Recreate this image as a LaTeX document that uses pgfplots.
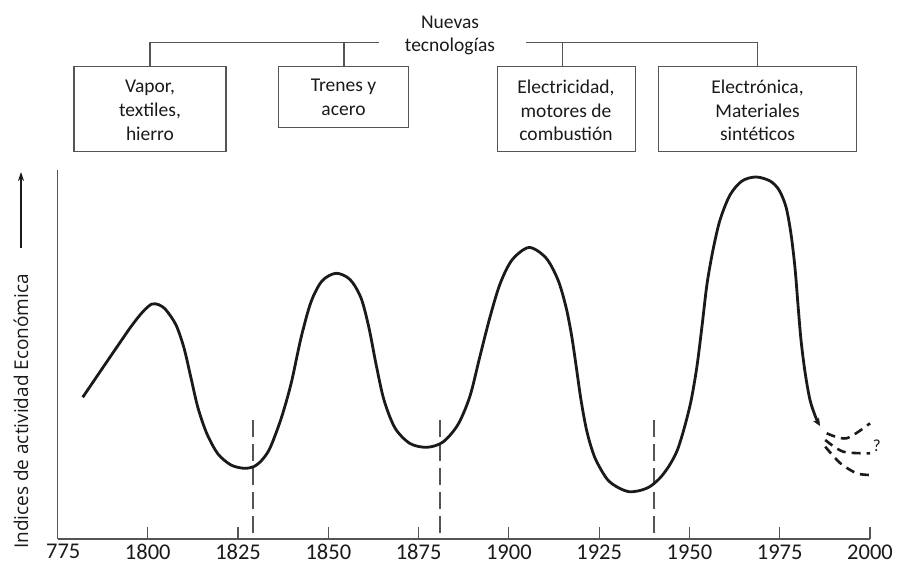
\documentclass[border=0pt]{standalone}
\usepackage{fontspec}
\usepackage{pgfplots}
\pgfplotsset{compat=1.18}
\usetikzlibrary{arrows.meta}
\newfontfamily\carlito{Carlito}
\newfontfamily\opensans{Open Sans}
\definecolor{ink}{HTML}{1A1A1A}
\definecolor{frame}{HTML}{555555}
\newcommand{\boxfont}{\carlito\fontsize{19.5bp}{23.7bp}\selectfont}
\begin{document}
\begin{tikzpicture}[x=1bp,y=1bp]
\useasboundingbox (0,0) rectangle (898,573);
\begin{axis}[
  at={(57.5bp,34bp)}, anchor=south west,
  scale only axis, width=812.5bp, height=369bp,
  xmin=1775, xmax=2000, ymin=0, ymax=369,
  axis x line=bottom, axis y line=left,
  axis line style={-, draw=frame, line width=1.6bp},
  xtick={1775,1800,1825,1850,1875,1900,1925,1950,1975,2000},
  xticklabels={\phantom{1}775,1800,1825,1850,1875,1900,1925,1950,1975,2000},
  ytick=\empty,
  xtick align=inside,
  major tick length=12bp,
  tick style={draw=frame, line width=1.2bp},
  tick label style={font=\carlito\fontsize{22.5bp}{26bp}\selectfont, text=ink},
  xticklabel style={yshift=-2bp},
  ylabel={Indices de actividad Económica},
  ylabel style={at={(axis description cs:-0.0449,0.3455)}, anchor=center,
    font=\opensans\fontsize{19bp}{22bp}\selectfont, text=ink},
  clip=false,
]
% dashed separators
\addplot[frame, line width=1.6bp, dash pattern=on 17bp off 7bp] coordinates {(1829.2,119) (1829.2,0)};
\addplot[frame, line width=1.6bp, dash pattern=on 17bp off 7bp] coordinates {(1880.9,119) (1880.9,0)};
\addplot[frame, line width=1.6bp, dash pattern=on 17bp off 7bp] coordinates {(1940.2,119) (1940.2,0)};
% main long-wave curve
\addplot[ink, line width=2.8bp, smooth, -{Stealth[length=8bp,width=7bp]}] coordinates {
(1781.98,141.7) (1788.15,174.5) (1792.31,196.5) (1795.08,211) (1797.29,221.5)
(1799.23,229.5) (1801.17,235) (1803.11,234.2) (1805.05,229) (1807.82,214)
(1810.03,191) (1811.97,161) (1813.91,131)
(1816.40,105) (1819.45,85) (1823.05,74) (1826.65,70.7) (1829.41,72.5)
(1831.63,79) (1833.85,91) (1836.89,120) (1839.66,155) (1842.43,201) (1845.20,237)
(1848.25,258) (1852.12,265.7) (1856.00,259.5) (1859.05,241) (1861.26,211)
(1863.20,175) (1865.41,139) (1868.46,111) (1872.61,95.5) (1877.32,91.7)
(1881.75,97) (1885.91,114.5) (1889.23,143) (1892.00,183) (1894.77,222)
(1897.54,255) (1900.86,279) (1905.57,291.5) (1910.28,281) (1913.60,259)
(1915.81,232) (1917.34,204) (1918.58,174) (1919.97,139) (1921.63,107)
(1923.85,81) (1927.17,60) (1930.21,51.5) (1933.26,47.3) (1936.31,48.5)
(1939.08,52.5) (1941.84,61) (1944.34,73) (1946.55,88)
(1948.49,110) (1950.43,138) (1952.09,173)
(1953.48,213) (1954.86,255) (1956.52,289) (1958.46,319) (1961.23,344)
(1964.55,358) (1968.43,362) (1972.31,358) (1974.80,349) (1976.74,332)
(1978.12,305) (1979.23,271) (1980.06,234) (1980.89,199) (1982.00,167)
(1983.38,139) (1985.04,121) (1986.15,113)};
% future scenarios
\addplot[ink, line width=2.6bp, smooth, dash pattern=on 9bp off 6bp] coordinates {(1988.0,105.7) (1993.5,100.7) (2000,115.7)};
\addplot[ink, line width=2.6bp, smooth, dash pattern=on 9bp off 6bp] coordinates {(1987.6,99) (1992.6,87.3) (2000,85.7)};
\addplot[ink, line width=2.6bp, smooth, dash pattern=on 9bp off 6bp] coordinates {(1987.6,92.3) (1991.8,75.7) (1996.3,65.7) (2000,64)};
\node[font=\carlito\fontsize{17bp}{20bp}\selectfont, text=ink] at (axis cs:2001.9,93) {?};
\end{axis}
% y-label arrow
\draw[ink, line width=1.4bp, -{Stealth[length=9bp,width=6bp]}] (21,325) -- (21,401);
% technology tree
\draw[frame, line width=1.5bp] (150,506.3) -- (150,530.7) -- (379.3,530.7);
\draw[frame, line width=1.5bp] (344,530.7) -- (344,506.3);
\draw[frame, line width=1.5bp] (526.3,530.7) -- (757.3,530.7) -- (757.3,506.3);
\draw[frame, line width=1.5bp] (562.3,530.7) -- (562.3,506.3);
\node[font=\boxfont, text=ink, align=center] at (450,537.6) {Nuevas\\tecnologías};
\draw[frame, line width=1.5bp] (74,421.3) rectangle (226,506.3);
\draw[frame, line width=1.5bp] (278.7,445.7) rectangle (408.3,506.3);
\draw[frame, line width=1.5bp] (497.3,421.3) rectangle (635.3,506.3);
\draw[frame, line width=1.5bp] (658.7,421.3) rectangle (856.3,506.3);
\node[font=\boxfont, text=ink, align=center] at (150,462.5) {Vapor,\\textiles,\\hierro};
\node[font=\boxfont, text=ink, align=center] at (343.5,475.5) {Trenes y\\acero};
\node[font=\boxfont, text=ink, align=center] at (566,462.5) {Electricidad,\\motores de\\combustión};
\node[font=\boxfont, text=ink, align=center] at (757.5,462.5) {Electrónica,\\Materiales\\sintéticos};
\end{tikzpicture}
\end{document}
